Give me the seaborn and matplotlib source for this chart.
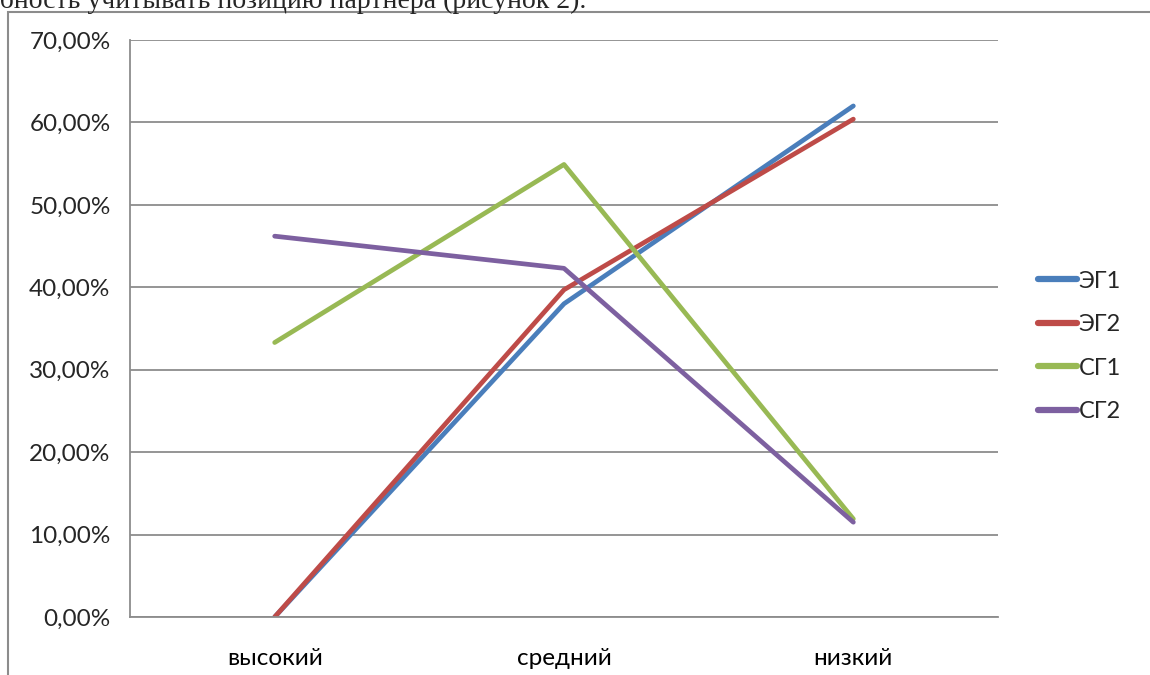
import matplotlib
matplotlib.use("Agg")
import matplotlib.pyplot as plt
import matplotlib.patches as patches
from matplotlib.ticker import FuncFormatter, MultipleLocator, FixedLocator
import seaborn as sns
import pandas as pd

# data (percent)
levels = ["высокий", "средний", "низкий"]
eg1 = [0.0, 38.0, 62.0]
eg2 = [0.0, 39.7, 60.4]
sg1 = [33.3, 54.9, 11.9]
sg2 = [46.2, 42.3, 11.5]
groups = ["ЭГ1", "ЭГ2", "СГ1", "СГ2"]
colors = ["#4A7EBB", "#BE4B48", "#98B954", "#7D60A0"]

rows = []
for g, vals in zip(groups, [eg1, eg2, sg1, sg2]):
    for lv, v in zip(levels, vals):
        rows.append({"level": lv, "value": v, "group": g})
df = pd.DataFrame(rows)

sns.set_style("white")
plt.rcParams["font.family"] = ["Lato", "DejaVu Sans"]

fig = plt.figure(figsize=(11.5, 6.75), dpi=100)
ax = fig.add_axes([130 / 1150, 58 / 675, 868 / 1150, 577 / 675])

sns.lineplot(data=df, x="level", y="value", hue="group", palette=colors,
             linewidth=3.4, ax=ax, sort=False, legend=True)
for ln in ax.lines:
    ln.set_solid_capstyle("round")
    ln.set_solid_joinstyle("round")

ax.set_xlim(-0.5, 2.5)
ax.set_ylim(0, 70)
ax.yaxis.set_major_locator(MultipleLocator(10))
ax.yaxis.set_major_formatter(FuncFormatter(lambda v, p: f"{v:.2f}".replace(".", ",") + "%"))
ax.grid(axis="y", color="#8c8c8c", linewidth=1.3)
ax.set_axisbelow(True)
ax.set_xlabel("")
ax.set_ylabel("")

# category labels between the tick marks
ax.xaxis.set_minor_locator(FixedLocator([-0.5, 0.5, 1.5, 2.5]))
ax.tick_params(axis="x", which="major", length=0, pad=22, labelsize=17.5, colors="black")
ax.tick_params(axis="x", which="minor", length=8, width=1.2, color="#8c8c8c", direction="out")
ax.tick_params(axis="y", which="major", length=8, width=1.2, color="#8c8c8c", direction="out",
               labelsize=17.5, pad=6)
for sp in ["top", "right"]:
    ax.spines[sp].set_visible(False)
for sp in ["left", "bottom"]:
    ax.spines[sp].set_color("#8c8c8c")
    ax.spines[sp].set_linewidth(1.3)

leg = ax.legend(loc="center left", bbox_to_anchor=(1.022, 0.469), frameon=False,
                fontsize=17, handlelength=1.65, handletextpad=0.05, labelspacing=0.95)
for h in leg.get_lines():
    h.set_linewidth(4.5)
    h.set_solid_capstyle("round")

# outer chart frame and the cut-off line of text above it
frame = patches.Rectangle((8 / 1150, -0.1), 1.2, 1.1 - 12 / 675, transform=fig.transFigure,
                          fill=False, edgecolor="#8c8c8c", linewidth=1.5, clip_on=False)
fig.patches.append(frame)
fig.text(-0.012, 1 - 8 / 675, "обность учитывать позицию партнера (рисунок 2).",
         family="Liberation Serif", fontsize=20, va="baseline", ha="left")

fig.savefig("out.png", dpi=100)
